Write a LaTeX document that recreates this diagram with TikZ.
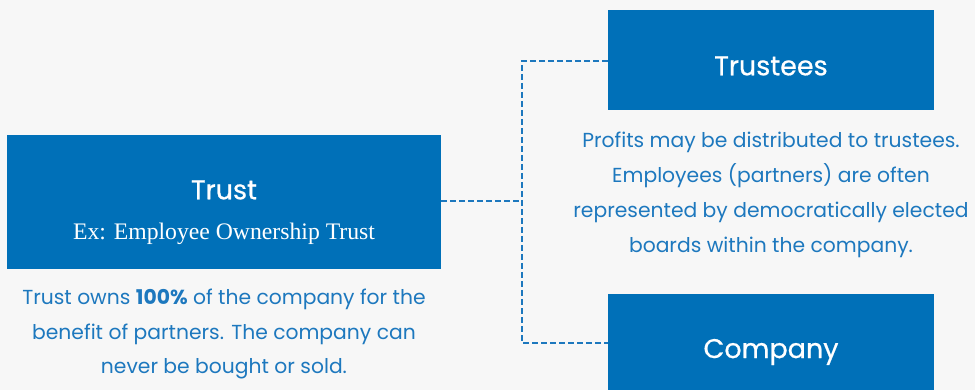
\documentclass[tikz,border=0pt]{standalone}
\usepackage{fontspec}
\setmainfont{Poppins}
\newfontfamily\serifsub{Liberation Serif}
\newfontfamily\headfont[FakeBold=0.6]{Poppins}
\definecolor{bg}{HTML}{F7F7F7}
\definecolor{boxblue}{HTML}{0070B8}
\definecolor{txtblue}{HTML}{1D78BE}
\begin{document}
\begin{tikzpicture}[x=1pt,y=-1pt,
  bluebox/.style={fill=boxblue,draw=none,inner sep=0pt,anchor=north west},
  head/.style={text=white,font=\headfont\fontsize{27}{30}\selectfont},
  body/.style={text=txtblue,font=\fontsize{20.3}{34.8}\selectfont,align=center},
  conn/.style={draw=txtblue,line width=1.8pt,dash pattern=on 6pt off 3pt}]
\fill[bg] (0,0) rectangle (975,390);
\useasboundingbox (0,0) rectangle (975,390);
% boxes
\node[bluebox,minimum width=434pt,minimum height=134pt] (trust) at (7,135) {};
\node[bluebox,minimum width=326pt,minimum height=100pt] (trustees) at (608,10) {};
\node[bluebox,minimum width=326pt,minimum height=100pt] (company) at (608,294) {};
% labels
\node[head] (trustT) at (224,190) {Trust};
\node[text=white,font=\serifsub\fontsize{23.7}{27}\selectfont] (trustS) at (224,234) {Ex: Employee Ownership Trust};
\node[head] (trusteesT) at (771,66) {Trustees};
\node[head] (companyT) at (771,352) {Company};
% descriptions
\node[body] (trustD) at (224,334) {Trust owns \textbf{100\%} of the company for the\\benefit of partners. The company can\\never be bought or sold.};
\node[body] (trusteesD) at (771,195) {Profits may be distributed to trustees.\\Employees (partners) are often\\represented by democratically elected\\boards within the company.};
% connectors
\coordinate (jx) at (522,201);
\coordinate (jt) at (522,61);
\coordinate (jc) at (522,343);
\draw[conn] (trust.east |- jx) -- (jx);
\draw[conn] (trustees.west |- jt) -- (jt) -- (jc) -- (company.west |- jc);
\end{tikzpicture}
\end{document}
